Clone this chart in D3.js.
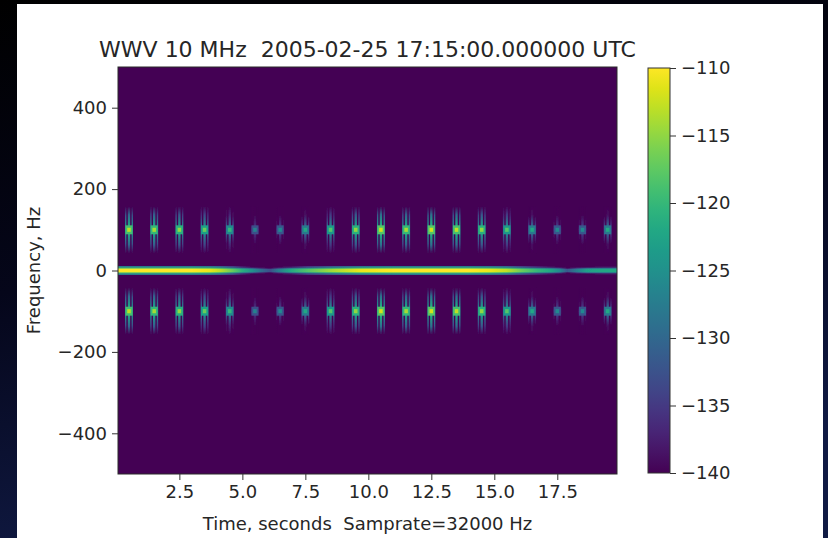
<!DOCTYPE html>
<html><head><meta charset="utf-8">
<script src="https://cdn.jsdelivr.net/npm/d3@7"></script>
<style>
body{margin:0;background:#000;}
text{font-family:"DejaVu Sans",sans-serif;fill:#262626;white-space:pre;}
</style>
</head><body><svg id="c" width="828" height="538"></svg>
<script>
// ---------- data ----------
const pulseTimes = [0.5,1.5,2.5,3.5,4.5,5.5,6.5,7.5,8.5,9.5,10.5,11.5,12.5,13.5,14.5,15.5,16.5,17.5,18.5,19.5];
const pulsePeakDb = [-113,-114,-115,-117,-120,-127,-126,-122,-118,-115,-112,-114,-112,-113,-115,-118,-122,-126,-126,-122];
const sidebandFreqs = [100,-100];
const carrierTimes = [0.06,3.0,3.7,4.1,4.6,5.0,5.4,5.8,6.1,6.4,6.9,7.6,8.6,9.7,11.0,14.0,14.8,15.5,16.1,16.7,17.2,17.6,17.9,18.3,18.7,19.3,19.87];
const carrierDb    = [-110,-110,-111,-113,-117,-121,-125,-130,-133,-128,-122,-118,-114,-111,-110,-110,-111,-113,-117,-120,-122,-126,-132,-127,-123,-122,-122];
const xTicks = [2.5,5.0,7.5,10.0,12.5,15.0,17.5];
const yTicks = [-400,-200,0,200,400];
const cbTicks = [-140,-135,-130,-125,-120,-115,-110];
const titleText = "WWV 10 MHz  2005-02-25 17:15:00.000000 UTC";
const xLabel = "Time, seconds  Samprate=32000 Hz";
const yLabel = "Frequency, Hz";

// ---------- layout ----------
const svg = d3.select("#c");
const P = {l:118, r:617, t:67, b:474};
const CB = {l:648, r:670, t:68, b:473};
const x = d3.scaleLinear().domain([0.064,19.87]).range([P.l,P.r]);
const y = d3.scaleLinear().domain([-500,500]).range([P.b,P.t]);
const color = d3.scaleSequential(d3.interpolateViridis).domain([-140,-110]).clamp(true);
const cbY = d3.scaleLinear().domain([-140,-110]).range([CB.b,CB.t]);
const defs = svg.append("defs");

// background frame
const bgG = defs.append("linearGradient").attr("id","bgG").attr("x1",0).attr("y1",0).attr("x2",0.3).attr("y2",1);
bgG.append("stop").attr("offset",0).attr("stop-color","#000");
bgG.append("stop").attr("offset",0.5).attr("stop-color","#05061a");
bgG.append("stop").attr("offset",1).attr("stop-color","#101a44");
svg.append("rect").attr("width",828).attr("height",538).attr("fill","url(#bgG)");
svg.append("rect").attr("x",17).attr("y",4).attr("width",806).attr("height",540).attr("fill","#fff");

// clip
defs.append("clipPath").attr("id","clip").append("rect")
  .attr("x",P.l).attr("y",P.t).attr("width",P.r-P.l).attr("height",P.b-P.t);
const blur = defs.append("filter").attr("id","soft").attr("x","-50%").attr("y","-50%").attr("width","200%").attr("height","200%");
blur.append("feGaussianBlur").attr("stdDeviation",0.6);

// plot background
svg.append("rect").attr("x",P.l).attr("y",P.t).attr("width",P.r-P.l).attr("height",P.b-P.t)
  .attr("fill",color(-140));

const plot = svg.append("g").attr("clip-path","url(#clip)");

// carrier band (gradient built from data)
function carrierGrad(id, off){
  const g = defs.append("linearGradient").attr("id",id)
    .attr("gradientUnits","userSpaceOnUse").attr("x1",P.l).attr("x2",P.r).attr("y1",0).attr("y2",0);
  carrierTimes.forEach((t,i)=>{
    g.append("stop").attr("offset",(x(t)-P.l)/(P.r-P.l)).attr("stop-color",color(carrierDb[i]-off));
  });
}
carrierGrad("carOuter",17);
carrierGrad("carMid",8);
carrierGrad("carInner",0);
const carG = plot.append("g").attr("filter","url(#soft)");
[[11,"carOuter"],[7,"carMid"],[4.5,"carInner"]].forEach(([hw,id])=>{
  carG.append("rect").attr("x",x(carrierTimes[0])-2).attr("width",x(carrierTimes[carrierTimes.length-1])-x(carrierTimes[0])+4)
    .attr("y",y(hw)).attr("height",y(-hw)-y(hw)).attr("fill",`url(#${id})`);
});

// pulses
const pulses = [];
sidebandFreqs.forEach(f=>pulseTimes.forEach((t,i)=>pulses.push({t,f,db:pulsePeakDb[i],i})));
pulseTimes.forEach((t,i)=>{
  const db = pulsePeakDb[i];
  const mk = (id, offs)=>{
    const g = defs.append("linearGradient").attr("id",id).attr("x1",0).attr("x2",0).attr("y1",0).attr("y2",1);
    offs.forEach(([o,d])=>g.append("stop").attr("offset",o).attr("stop-color",color(db-d)));
  };
  mk("st"+i, [[0,30],[0.18,17],[0.38,10],[0.5,6],[0.62,10],[0.82,17],[1,30]]);
  mk("sd"+i, [[0,32],[0.2,19],[0.4,13],[0.5,11],[0.6,13],[0.8,19],[1,32]]);
});
const pg = plot.append("g").attr("filter","url(#soft)").selectAll("g").data(pulses).join("g");
// side lines
[-0.13,0.13].forEach(dt=>{
  pg.append("rect").attr("x",d=>x(d.t+dt)-0.7).attr("width",1.4)
    .attr("y",d=>y(d.f+58)).attr("height",d=>y(d.f-58)-y(d.f+58))
    .attr("fill",d=>`url(#sd${d.i})`);
});
// centre streak
pg.append("rect").attr("x",d=>x(d.t)-1.2).attr("width",2.4)
  .attr("y",d=>y(d.f+58)).attr("height",d=>y(d.f-58)-y(d.f+58))
  .attr("fill",d=>`url(#st${d.i})`);
// halo
pg.append("rect").attr("x",d=>x(d.t-0.14)).attr("width",d=>x(d.t+0.14)-x(d.t-0.14))
  .attr("y",d=>y(d.f+11)).attr("height",d=>y(d.f-11)-y(d.f+11))
  .attr("fill",d=>color(d.db-6));
// core
pg.append("rect").attr("x",d=>x(d.t-0.07)).attr("width",d=>x(d.t+0.07)-x(d.t-0.07))
  .attr("y",d=>y(d.f+5)).attr("height",d=>y(d.f-5)-y(d.f+5))
  .attr("fill",d=>color(d.db));

// spines
svg.append("rect").attr("x",P.l).attr("y",P.t).attr("width",P.r-P.l).attr("height",P.b-P.t)
  .attr("fill","none").attr("stroke","#2a2a2a").attr("stroke-width",1);

// axes
const ax = svg.append("g").attr("transform",`translate(0,${P.b})`)
  .call(d3.axisBottom(x).tickValues(xTicks).tickFormat(d3.format(".1f")).tickSize(6).tickPadding(5));
const ay = svg.append("g").attr("transform",`translate(${P.l},0)`)
  .call(d3.axisLeft(y).tickValues(yTicks).tickFormat(d=>d<0?"\u2212"+Math.abs(d):d).tickSize(6).tickPadding(5));
[ax,ay].forEach(a=>{
  a.select(".domain").remove();
  a.selectAll(".tick line").attr("stroke","#333");
  a.selectAll(".tick text").attr("font-size",18).attr("font-family","DejaVu Sans").attr("fill","#262626");
});

// colorbar
const cbG = defs.append("linearGradient").attr("id","cbG").attr("x1",0).attr("x2",0).attr("y1",1).attr("y2",0);
d3.range(0,1.0001,0.05).forEach(o=>cbG.append("stop").attr("offset",o).attr("stop-color",color(-140+30*o)));
svg.append("rect").attr("x",CB.l).attr("y",CB.t).attr("width",CB.r-CB.l).attr("height",CB.b-CB.t)
  .attr("fill","url(#cbG)").attr("stroke","#333").attr("stroke-width",1);
const acb = svg.append("g").attr("transform",`translate(${CB.r},0)`)
  .call(d3.axisRight(cbY).tickValues(cbTicks).tickFormat(d=>"\u2212"+Math.abs(d)).tickSize(6).tickPadding(5));
acb.select(".domain").remove();
acb.selectAll(".tick line").attr("stroke","#333");
acb.selectAll(".tick text").attr("font-size",18).attr("font-family","DejaVu Sans").attr("fill","#262626");

// titles
svg.append("text").attr("x",(P.l+P.r)/2).attr("y",57).attr("text-anchor","middle")
  .attr("font-size",22).attr("xml:space","preserve").text(titleText);
svg.append("text").attr("x",(P.l+P.r)/2).attr("y",530).attr("text-anchor","middle")
  .attr("font-size",18).attr("xml:space","preserve").text(xLabel);
svg.append("text").attr("transform",`translate(40,${(P.t+P.b)/2}) rotate(-90)`).attr("text-anchor","middle")
  .attr("font-size",18).text(yLabel);
</script></body></html>
